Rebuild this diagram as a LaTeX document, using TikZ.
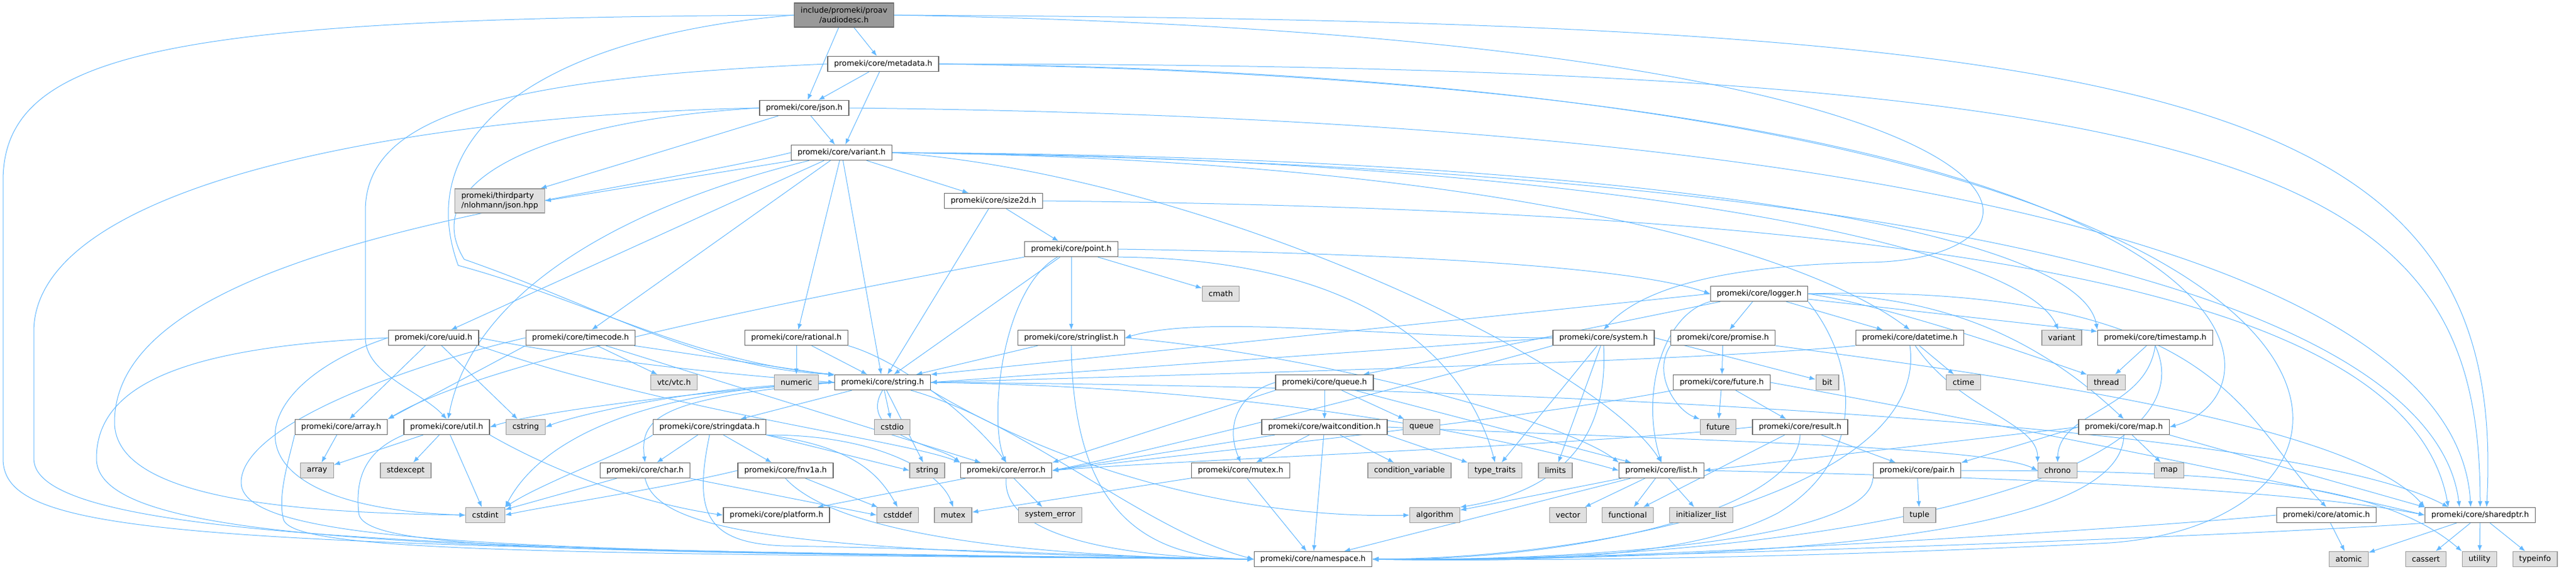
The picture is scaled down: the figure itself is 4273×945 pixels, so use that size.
\documentclass[tikz,border=0pt]{standalone}
\usepackage{fontspec}
\setmainfont{DejaVu Sans}
\usetikzlibrary{arrows.meta,backgrounds}
\definecolor{deplink}{HTML}{63B8FF}
\definecolor{boxline}{HTML}{666666}
\definecolor{stdfill}{HTML}{E0E0E0}
\definecolor{stdline}{HTML}{999999}
\definecolor{rootfill}{HTML}{999999}
\tikzset{
	hdr/.style={draw=boxline, fill=white, line width=1.3pt, font=\fontsize{12.8}{15.7}\selectfont, inner xsep=10.5pt, inner ysep=0pt, minimum height=25pt},
	stdhdr/.style={hdr, draw=stdline, fill=stdfill},
	roothdr/.style={hdr, fill=rootfill, minimum height=40pt, align=center},
	dep/.style={draw=deplink, line width=1pt, line join=round, -{Latex[length=10pt,width=7.5pt]}},
}

\begin{document}
\begin{tikzpicture}[x=1pt,y=1pt]
			%%%%% START %%%%%
			\useasboundingbox (0,0) rectangle (4273,-945);
			
			\node[roothdr] (ad) at (1400,-25) {include/promeki/proav\\/audiodesc.h};
			\node[hdr] (meta) at (1465,-106) {promeki/core/metadata.h};
			\node[hdr] (json) at (1334,-179) {promeki/core/json.h};
			\node[hdr] (var) at (1396,-253) {promeki/core/variant.h};
			\node[stdhdr, minimum height=40pt, align=left] (nl) at (829,-333) {promeki/thirdparty\\/nlohmann/json.hpp};
			\node[hdr] (s2d) at (1648,-333) {promeki/core/size2d.h};
			\node[hdr] (pt) at (1777,-413) {promeki/core/point.h};
			\node[stdhdr] (cmath) at (2025,-487) {cmath};
			\node[hdr] (logger) at (2918,-487) {promeki/core/logger.h};
			
			\node[hdr] (uuid) at (719,-560) {promeki/core/uuid.h};
			\node[hdr] (tc) at (963,-560) {promeki/core/timecode.h};
			\node[hdr] (rat) at (1321,-560) {promeki/core/rational.h};
			\node[hdr] (sl) at (1777,-560) {promeki/core/stringlist.h};
			\node[hdr] (sys) at (2660,-560) {promeki/core/system.h};
			\node[hdr] (prom) at (2858,-560) {promeki/core/promise.h};
			\node[hdr] (dt) at (3168,-560) {promeki/core/datetime.h};
			\node[stdhdr] (vstd) at (3420,-560) {variant};
			\node[hdr] (ts) at (3575,-560) {promeki/core/timestamp.h};
			
			\node[stdhdr] (vtc) at (1118,-634) {vtc/vtc.h};
			\node[stdhdr] (num) at (1321,-634) {numeric};
			\node[hdr] (str) at (1464,-634) {promeki/core/string.h};
			\node[hdr] (queue) at (2197,-634) {promeki/core/queue.h};
			\node[hdr] (fut) at (2856,-634) {promeki/core/future.h};
			\node[stdhdr] (bit) at (3031,-634) {bit};
			\node[stdhdr] (ctime) at (3257,-634) {ctime};
			\node[stdhdr] (thread) at (3494,-634) {thread};
			
			\node[hdr] (arr) at (566,-708) {promeki/core/array.h};
			\node[hdr] (util) at (741,-708) {promeki/core/util.h};
			\node[stdhdr] (cstring) at (872,-708) {cstring};
			\node[hdr] (sd) at (1177,-708) {promeki/core/stringdata.h};
			\node[stdhdr] (cstdio) at (1480,-708) {cstdio};
			\node[hdr] (wc) at (2197,-708) {promeki/core/waitcondition.h};
			\node[stdhdr] (queuestd) at (2358,-708) {queue};
			\node[stdhdr] (futstd) at (2850,-708) {future};
			\node[hdr] (res) at (2986,-708) {promeki/core/result.h};
			\node[hdr] (map) at (3523,-708) {promeki/core/map.h};
			
			\node[stdhdr] (array) at (526,-780) {array};
			\node[stdhdr] (stdexcept) at (673,-780) {stdexcept};
			\node[hdr] (char) at (1070,-780) {promeki/core/char.h};
			\node[hdr] (fnv) at (1303,-780) {promeki/core/fnv1a.h};
			\node[stdhdr] (stringstd) at (1538,-780) {string};
			\node[hdr] (err) at (1669,-780) {promeki/core/error.h};
			\node[hdr] (mutexh) at (2058,-780) {promeki/core/mutex.h};
			\node[stdhdr] (cv) at (2338,-780) {condition\_variable};
			\node[stdhdr] (tt) at (2480,-780) {type\_traits};
			\node[stdhdr] (limits) at (2580,-780) {limits};
			\node[hdr] (list) at (2756,-780) {promeki/core/list.h};
			\node[hdr] (pair) at (3180,-780) {promeki/core/pair.h};
			\node[stdhdr] (chrono) at (3413,-780) {chrono};
			\node[stdhdr] (mapstd) at (3598,-780) {map};
			
			\node[stdhdr] (cstdint) at (805,-854) {cstdint};
			\node[hdr] (platform) at (1288,-854) {promeki/core/platform.h};
			\node[stdhdr] (cstddef) at (1489,-854) {cstddef};
			\node[stdhdr] (mutexstd) at (1581,-854) {mutex};
			\node[stdhdr] (syserr) at (1742,-854) {system\_error};
			\node[stdhdr] (alg) at (2380,-854) {algorithm};
			\node[stdhdr] (vector) at (2601,-854) {vector};
			\node[stdhdr] (functional) at (2700,-854) {functional};
			\node[stdhdr] (il) at (2822,-854) {initializer\_list};
			\node[stdhdr] (tuple) at (3184,-854) {tuple};
			\node[hdr] (atomich) at (3859,-854) {promeki/core/atomic.h};
			\node[hdr] (sp) at (4114,-854) {promeki/core/sharedptr.h};
			
			\node[hdr] (ns) at (2178,-927) {promeki/core/namespace.h};
			\node[stdhdr] (atomic) at (3896,-927) {atomic};
			\node[stdhdr] (cassert) at (4024,-927) {cassert};
			\node[stdhdr] (utility) at (4113,-927) {utility};
			\node[stdhdr] (typeinfo) at (4205,-927) {typeinfo};
			
			\begin{pgfonlayer}{background}
			% audiodesc.h
			\draw[dep] (ad) -- (meta);
			\draw[dep] (ad) -- (json);
			\draw[dep] (ad.west) .. controls (300,-30) and (5,-80) .. (5,-300) -- (5,-760) .. controls (5,-890) and (300,-905) .. (ns.west);
			\draw[dep] (ad.west) .. controls (900,-60) and (680,-220) .. (760,-440) .. controls (980,-500) and (1150,-600) .. (str.north west);
			\draw[dep] (ad.east) .. controls (3600,-35) and (4163,-150) .. (sp.51);
			\draw[dep] (ad.east) .. controls (3470,-60) and (3470,-430) .. (3100,-435) .. controls (2850,-440) and (2720,-480) .. (sys.north);
			
			% metadata.h
			\draw[dep] (meta) -- (json);
			\draw[dep] (meta) -- (var);
			\draw[dep] (meta.west) .. controls (800,-130) and (606,-200) .. (606,-350) -- (606,-560) .. controls (606,-620) and (700,-650) .. (util.north);
			\draw[dep] (meta.east) .. controls (3800,-106) and (4113,-300) .. (sp.north);
			\draw[dep] (meta.east) .. controls (3810,-140) and (3810,-650) .. (map.east);
			\draw[dep] (meta.east) .. controls (4062,-130) and (4062,-860) .. (3500,-900) .. controls (3000,-925) and (2600,-930) .. (ns.east);
			
			% json.h
			\draw[dep] (json) -- (var);
			\draw[dep] (json) -- (nl);
			\draw[dep] (json.west) .. controls (700,-190) and (56,-300) .. (56,-550) -- (56,-760) .. controls (56,-880) and (600,-915) .. (ns.west);
			\draw[dep] (json.west) .. controls (900,-200) and (690,-300) .. (770,-430) .. controls (1000,-510) and (1160,-610) .. (str.north west);
			\draw[dep] (json.east) .. controls (3400,-200) and (4080,-500) .. (sp.140);
			
			% variant.h
			\draw[dep] (var) -- (nl.east);
			\draw[dep] (var.west) .. controls (1000,-330) and (190,-400) .. (190,-700) .. controls (190,-830) and (500,-850) .. (cstdint.west);
			\draw[dep] (var) -- (uuid);
			\draw[dep] (var) -- (tc);
			\draw[dep] (var) .. controls (1000,-350) and (780,-500) .. (util);
			\draw[dep] (var) -- (rat);
			\draw[dep] (var) -- (str);
			\draw[dep] (var) -- (s2d);
			\draw[dep] (var.east) .. controls (2600,-260) and (3350,-400) .. (vstd);
			\draw[dep] (var.east) .. controls (2500,-265) and (3000,-420) .. (dt.north);
			\draw[dep] (var.east) .. controls (2700,-258) and (3450,-380) .. (ts.north west);
			\draw[dep] (var.east) .. controls (2000,-290) and (2650,-600) .. (list.north);
			\draw[dep] (var.east) .. controls (3600,-280) and (4050,-600) .. (sp.159);
			
			% uuid.h, timecode.h, rational.h
			\draw[dep] (uuid) -- (arr);
			\draw[dep] (uuid) -- (cstring);
			\draw[dep] (uuid.east) .. controls (1000,-600) and (1200,-620) .. (str.west);
			\draw[dep] (uuid.south east) .. controls (1100,-680) and (1500,-730) .. (err.north west);
			\draw[dep] (uuid.west) .. controls (300,-575) and (160,-640) .. (160,-760) .. controls (160,-900) and (700,-915) .. (ns.west);
			\draw[dep] (uuid.west) .. controls (400,-640) and (350,-840) .. (cstdint.west);
			\draw[dep] (tc) -- (vtc);
			\draw[dep] (tc) -- (str);
			\draw[dep] (tc) -- (err);
			\draw[dep] (tc.south west) -- (arr.north east);
			\draw[dep] (tc.west) .. controls (700,-600) and (400,-700) .. (400,-800) .. controls (400,-905) and (900,-915) .. (ns.west);
			\draw[dep] (rat) -- (num);
			\draw[dep] (rat) -- (str);
			\draw[dep] (rat.south east) .. controls (1500,-600) and (1620,-700) .. (err.north);
			
			% size2d.h, point.h, stringlist.h
			\draw[dep] (s2d) -- (pt);
			\draw[dep] (s2d) -- (str);
			\draw[dep] (s2d.east) .. controls (3300,-350) and (4000,-500) .. (sp.166);
			\draw[dep] (pt) -- (cmath);
			\draw[dep] (pt) -- (sl);
			\draw[dep] (pt) -- (str);
			\draw[dep] (pt) .. controls (1660,-480) and (1640,-700) .. (err.north);
			\draw[dep] (pt.east) .. controls (2300,-420) and (2700,-440) .. (logger.west);
			\draw[dep] (pt.south west) .. controls (1300,-500) and (800,-600) .. (arr.north east);
			\draw[dep] (pt.south east) .. controls (2300,-430) and (2440,-620) .. (tt.north);
			\draw[dep] (sl) -- (str);
			\draw[dep] (sl.south) .. controls (1780,-850) and (1900,-925) .. (ns.west);
			\draw[dep] (sl.east) .. controls (2200,-590) and (2600,-700) .. (list.north west);
			
			% logger.h
			\draw[dep] (logger.west) -- (str.north east);
			\draw[dep] (logger) -- (prom);
			\draw[dep] (logger) -- (dt);
			\draw[dep] (logger) -- (queue);
			\draw[dep] (logger) -- (ts);
			\draw[dep] (logger.east) .. controls (3150,-510) and (3400,-600) .. (thread.north west);
			\draw[dep] (logger.east) .. controls (3250,-490) and (3400,-580) .. (map.north);
			\draw[dep] (logger.south west) .. controls (2760,-520) and (2720,-650) .. (list.north);
			\draw[dep] (logger.east) .. controls (3690,-470) and (3720,-700) .. (atomich.north);
			\draw[dep] (logger.south east) .. controls (3080,-600) and (3100,-760) .. (2950,-850) .. controls (2800,-930) and (2500,-932) .. (ns.east);
			
			% system.h, promise.h, future.h, result.h
			\draw[dep] (sys.west) .. controls (2300,-560) and (2000,-520) .. (sl.east);
			\draw[dep] (sys.west) -- (str.east);
			\draw[dep] (sys) -- (tt);
			\draw[dep] (sys) -- (limits);
			\draw[dep] (sys.east) -- (bit);
			\draw[dep] (sys.south) .. controls (2670,-760) and (2550,-820) .. (alg.north east);
			\draw[dep] (sys.south west) .. controls (2300,-650) and (1900,-750) .. (err.east);
			\draw[dep] (prom) -- (fut);
			\draw[dep] (prom.south west) .. controls (2740,-620) and (2780,-680) .. (futstd.north west);
			\draw[dep] (prom.south east) .. controls (3300,-620) and (3900,-700) .. (sp.north west);
			\draw[dep] (fut) -- (futstd);
			\draw[dep] (fut) -- (res);
			\draw[dep] (fut.south west) .. controls (2500,-700) and (1900,-760) .. (err.east);
			\draw[dep] (fut.east) .. controls (3300,-700) and (3800,-800) .. (sp.west);
			\draw[dep] (res) -- (pair);
			\draw[dep] (res) -- (functional);
			\draw[dep] (res.west) .. controls (2600,-740) and (2000,-760) .. (err.east);
			\draw[dep] (res.south) .. controls (2980,-850) and (2600,-930) .. (ns.east);
			
			% datetime.h, timestamp.h, map.h
			\draw[dep] (dt) -- (ctime);
			\draw[dep] (dt) .. controls (3250,-680) and (3380,-700) .. (chrono.north west);
			\draw[dep] (dt.south west) .. controls (2800,-600) and (2000,-620) .. (str.east);
			\draw[dep] (dt.south) .. controls (3200,-800) and (2700,-925) .. (ns.east);
			\draw[dep] (ts) -- (thread);
			\draw[dep] (ts.south) .. controls (3560,-680) and (3415,-680) .. (chrono.north);
			\draw[dep] (ts.south) .. controls (3680,-800) and (3000,-935) .. (ns.east);
			\draw[dep] (map) -- (mapstd);
			\draw[dep] (map.south east) -- (sp.north west);
			\draw[dep] (map.west) -- (list.east);
			\draw[dep] (map.west) -- (pair.north east);
			\draw[dep] (map.south) .. controls (3520,-880) and (3000,-930) .. (ns.east);
			
			% queue.h, waitcondition.h, mutex.h
			\draw[dep] (queue) -- (wc);
			\draw[dep] (queue) -- (queuestd);
			\draw[dep] (queue) -- (list);
			\draw[dep] (queue.west) .. controls (2060,-650) and (2030,-700) .. (mutexh.north);
			\draw[dep] (queue.south west) -- (err.north east);
			\draw[dep] (wc) -- (mutexh);
			\draw[dep] (wc) -- (cv);
			\draw[dep] (wc) -- (err.east);
			\draw[dep] (wc) -- (ns);
			\draw[dep] (wc.south east) -- (tt.north west);
			\draw[dep] (wc.east) .. controls (2800,-730) and (3300,-740) .. (chrono.west);
			\draw[dep] (mutexh) -- (mutexstd);
			\draw[dep] (mutexh) -- (ns);
			
			% list.h, pair.h, sharedptr.h, atomic.h
			\draw[dep] (list) -- (vector);
			\draw[dep] (list) -- (functional);
			\draw[dep] (list) -- (il);
			\draw[dep] (list) -- (alg);
			\draw[dep] (list) -- (ns);
			\draw[dep] (list.east) .. controls (3300,-790) and (3800,-810) .. (sp.west);
			\draw[dep] (pair) -- (tuple);
			\draw[dep] (pair.south west) .. controls (3100,-900) and (2600,-930) .. (ns.east);
			\draw[dep] (pair.east) .. controls (3700,-780) and (3950,-800) .. (utility.north west);
			\draw[dep] (sp) -- (atomic);
			\draw[dep] (sp) -- (cassert);
			\draw[dep] (sp) -- (utility);
			\draw[dep] (sp) -- (typeinfo);
			\draw[dep] (sp.south west) .. controls (3700,-890) and (2600,-930) .. (ns.east);
			\draw[dep] (atomich) -- (atomic);
			\draw[dep] (atomich.west) .. controls (3500,-880) and (2600,-935) .. (ns.east);
			
			% string.h, stringdata.h
			\draw[dep] (str) -- (sd);
			\draw[dep] (str) -- (cstdio);
			\draw[dep] (str) -- (stringstd);
			\draw[dep] (str.south) .. controls (1420,-720) and (1560,-740) .. (err.north west);
			\draw[dep] (str.west) .. controls (1100,-660) and (1060,-690) .. (char.north);
			\draw[dep] (str.west) .. controls (1000,-650) and (880,-760) .. (cstdint.north east);
			\draw[dep] (str.west) .. controls (1150,-640) and (950,-690) .. (cstring.east);
			\draw[dep] (str.west) .. controls (1200,-645) and (900,-680) .. (util.east);
			\draw[dep] (str.east) .. controls (2000,-640) and (2400,-700) .. (list.west);
			\draw[dep] (str.east) .. controls (2500,-640) and (3800,-700) .. (sp.166);
			\draw[dep] (str) .. controls (1700,-700) and (1900,-880) .. (ns.west);
			\draw[dep] (str.south east) .. controls (1800,-800) and (2100,-860) .. (alg.west);
			\draw[dep] (sd) -- (char);
			\draw[dep] (sd) -- (fnv);
			\draw[dep] (sd.south east) .. controls (1420,-740) and (1460,-790) .. (cstddef.north);
			\draw[dep] (sd.south east) .. controls (1450,-720) and (1560,-780) .. (mutexstd.north);
			\draw[dep] (sd.south east) -- (stringstd.west);
			\draw[dep] (sd.south west) .. controls (1050,-745) and (900,-800) .. (cstdint.north east);
			\draw[dep] (sd.south) .. controls (1150,-850) and (1170,-900) .. (1300,-905) .. controls (1600,-910) and (1900,-925) .. (ns.west);
			
			% char.h, fnv1a.h, error.h, util.h, array.h
			\draw[dep] (char) -- (cstdint);
			\draw[dep] (char.south east) -- (cstddef.west);
			\draw[dep] (char.south) .. controls (1090,-880) and (1300,-915) .. (ns.west);
			\draw[dep] (fnv) -- (cstddef);
			\draw[dep] (fnv.west) .. controls (1100,-810) and (900,-840) .. (cstdint.east);
			\draw[dep] (fnv.south) .. controls (1400,-900) and (1800,-925) .. (ns.west);
			\draw[dep] (err) -- (platform);
			\draw[dep] (err) -- (syserr);
			\draw[dep] (err.south) .. controls (1660,-900) and (1900,-925) .. (ns.west);
			\draw[dep] (util) -- (array);
			\draw[dep] (util) -- (stdexcept);
			\draw[dep] (util) -- (cstdint);
			\draw[dep] (util.south east) .. controls (950,-800) and (1100,-840) .. (platform.west);
			\draw[dep] (util.south west) .. controls (600,-750) and (590,-800) .. (595,-850) .. controls (600,-910) and (900,-915) .. (ns.west);
			\draw[dep] (arr) -- (array);
			\draw[dep] (arr.south west) .. controls (480,-760) and (460,-820) .. (470,-860) .. controls (480,-915) and (900,-918) .. (ns.west);
			\end{pgfonlayer}
			
			%%%%% END %%%%%
\end{tikzpicture}
\end{document}
